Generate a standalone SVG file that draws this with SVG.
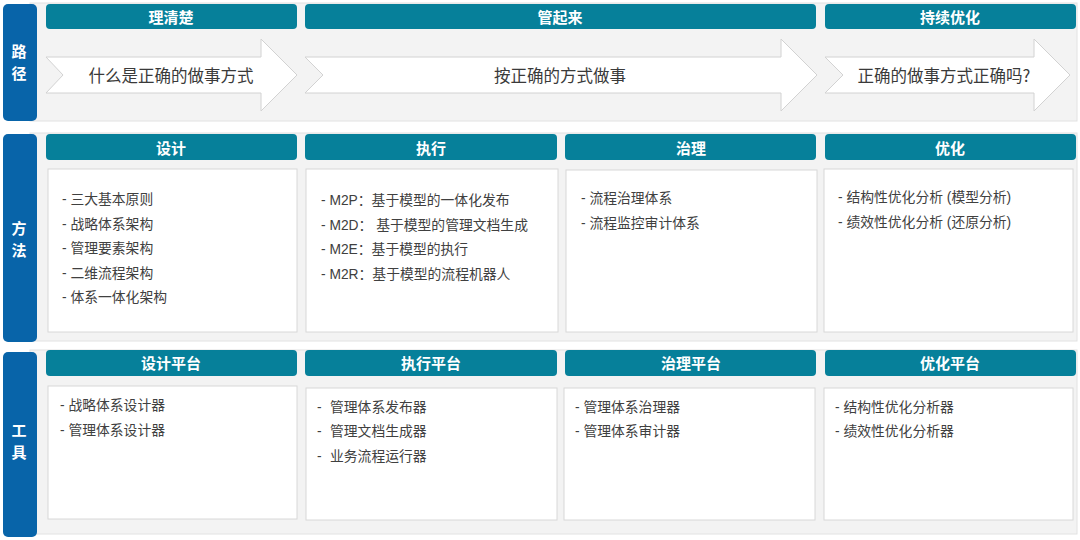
<svg xmlns="http://www.w3.org/2000/svg" width="1080" height="540" viewBox="0 0 1080 540">
<style>
  .band{fill:#f3f3f3;stroke:#e2e2e2;stroke-width:1}
  .tab{fill:#0864a9}
  .tabt{font-family:"Noto Sans CJK SC","Liberation Sans",sans-serif;font-size:15px;font-weight:bold;fill:#ffffff;text-anchor:middle;dominant-baseline:central}
  .hdr{fill:#06809a}
  .hdrt{font-family:"Noto Sans CJK SC","Liberation Sans",sans-serif;font-size:15px;font-weight:bold;fill:#ffffff;text-anchor:middle;dominant-baseline:central}
  .arrow{fill:#ffffff;stroke:#d2d2d2;stroke-width:1}
  .arrt{font-family:"Noto Sans CJK SC","Liberation Sans",sans-serif;font-size:16.5px;fill:#3a3a3a;text-anchor:middle;dominant-baseline:central}
  .box{fill:#ffffff;stroke:#d8d8d8;stroke-width:1}
  .item{font-family:"Liberation Sans","Noto Sans CJK SC",sans-serif;font-size:13.8px;fill:#404040;dominant-baseline:central}
</style>

<!-- Row bands -->
<g id="row-path">
  <rect class="band" x="30" y="3" width="1047" height="118"/>
  <rect class="tab" x="3" y="4" width="34" height="117" rx="5"/>
  <text class="tabt" x="19" y="50">路</text>
  <text class="tabt" x="19" y="72">径</text>
</g>
<g id="row-method">
  <rect class="band" x="30" y="133" width="1047" height="208"/>
  <rect class="tab" x="3" y="134" width="34" height="208" rx="5"/>
  <text class="tabt" x="19" y="227">方</text>
  <text class="tabt" x="19" y="249">法</text>
</g>
<g id="row-tool">
  <rect class="band" x="30" y="350" width="1047" height="184"/>
  <rect class="tab" x="3" y="352" width="34" height="185" rx="5"/>
  <text class="tabt" x="19" y="429">工</text>
  <text class="tabt" x="19" y="451">具</text>
</g>

<!-- Path row -->
<g id="path-clarify">
  <rect class="hdr" x="46" y="4" width="251" height="25" rx="4"/>
  <text class="hdrt" x="171" y="16">理清楚</text>
  <polygon class="arrow" points="46,57 261,57 261,39 297,75 261,111 261,93 46,93 63,75"/>
  <text class="arrt" x="171" y="75">什么是正确的做事方式</text>
</g>
<g id="path-manage">
  <rect class="hdr" x="305" y="4" width="511" height="25" rx="4"/>
  <text class="hdrt" x="560" y="16">管起来</text>
  <polygon class="arrow" points="305,57 781,57 781,39 817,75 781,111 781,93 305,93 323,75"/>
  <text class="arrt" x="560" y="75">按正确的方式做事</text>
</g>
<g id="path-optimize">
  <rect class="hdr" x="825" y="4" width="251" height="25" rx="4"/>
  <text class="hdrt" x="950" y="16">持续优化</text>
  <polygon class="arrow" points="825,57 1034,57 1034,39 1070,75 1034,111 1034,93 825,93 843,75"/>
  <text class="arrt" x="944" y="75">正确的做事方式正确吗?</text>
</g>

<!-- Method row -->
<g id="method-design">
  <rect class="hdr" x="46" y="134" width="251" height="26" rx="4"/>
  <text class="hdrt" x="171" y="147">设计</text>
  <rect class="box" x="48" y="169" width="249" height="163"/>
  <text class="item" x="62" y="199">- 三大基本原则</text>
  <text class="item" x="62" y="224">- 战略体系架构</text>
  <text class="item" x="62" y="248">- 管理要素架构</text>
  <text class="item" x="62" y="273">- 二维流程架构</text>
  <text class="item" x="62" y="297">- 体系一体化架构</text>
</g>
<g id="method-execute">
  <rect class="hdr" x="305" y="134" width="252" height="26" rx="4"/>
  <text class="hdrt" x="431" y="147">执行</text>
  <rect class="box" x="306" y="169" width="252" height="163"/>
  <text class="item" x="321" y="200">- M2P：基于模型的一体化发布</text>
  <text class="item" x="321" y="225">- M2D： 基于模型的管理文档生成</text>
  <text class="item" x="321" y="249">- M2E：基于模型的执行</text>
  <text class="item" x="321" y="274">- M2R：基于模型的流程机器人</text>
</g>
<g id="method-govern">
  <rect class="hdr" x="565" y="134" width="251" height="26" rx="4"/>
  <text class="hdrt" x="691" y="147">治理</text>
  <rect class="box" x="566" y="170" width="251" height="162"/>
  <text class="item" x="581" y="198">- 流程治理体系</text>
  <text class="item" x="581" y="223">- 流程监控审计体系</text>
</g>
<g id="method-optimize">
  <rect class="hdr" x="825" y="134" width="251" height="26" rx="4"/>
  <text class="hdrt" x="950" y="147">优化</text>
  <rect class="box" x="824" y="169" width="249" height="163"/>
  <text class="item" x="838" y="197">- 结构性优化分析 (模型分析)</text>
  <text class="item" x="838" y="222">- 绩效性优化分析 (还原分析)</text>
</g>

<!-- Tool row -->
<g id="tool-design">
  <rect class="hdr" x="46" y="350" width="251" height="26" rx="4"/>
  <text class="hdrt" x="171" y="362">设计平台</text>
  <rect class="box" x="48" y="386" width="249" height="133"/>
  <text class="item" x="60" y="405">- 战略体系设计器</text>
  <text class="item" x="60" y="430">- 管理体系设计器</text>
</g>
<g id="tool-execute">
  <rect class="hdr" x="305" y="350" width="252" height="26" rx="4"/>
  <text class="hdrt" x="431" y="362">执行平台</text>
  <rect class="box" x="306" y="388" width="251" height="132"/>
  <text class="item" x="317" y="407">-<tspan x="330">管理体系发布器</tspan></text>
  <text class="item" x="317" y="431">-<tspan x="330">管理文档生成器</tspan></text>
  <text class="item" x="317" y="456">-<tspan x="330">业务流程运行器</tspan></text>
</g>
<g id="tool-govern">
  <rect class="hdr" x="565" y="350" width="251" height="26" rx="4"/>
  <text class="hdrt" x="691" y="362">治理平台</text>
  <rect class="box" x="564" y="388" width="251" height="132"/>
  <text class="item" x="575" y="407">- 管理体系治理器</text>
  <text class="item" x="575" y="431">- 管理体系审计器</text>
</g>
<g id="tool-optimize">
  <rect class="hdr" x="825" y="350" width="251" height="26" rx="4"/>
  <text class="hdrt" x="950" y="362">优化平台</text>
  <rect class="box" x="824" y="388" width="249" height="132"/>
  <text class="item" x="835" y="407">- 结构性优化分析器</text>
  <text class="item" x="835" y="431">- 绩效性优化分析器</text>
</g>

<g id="connectors"></g>
</svg>
